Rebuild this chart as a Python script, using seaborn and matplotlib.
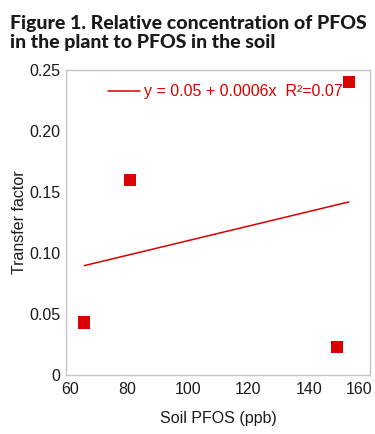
import matplotlib
matplotlib.use('Agg')
import matplotlib.pyplot as plt
import matplotlib.transforms as mtransforms
import seaborn as sns
import numpy as np
import pandas as pd

# data
soil_pfos = [66, 81, 149, 153]
transfer_factor = [0.043, 0.160, 0.023, 0.240]
fit_intercept = 0.05
fit_slope = 0.0006
fit_label = "y = 0.05 + 0.0006x  R\u00b2=0.07"
x_ticks = [60, 80, 100, 120, 140, 160]
y_ticks = [0, 0.05, 0.10, 0.15, 0.20, 0.25]
y_tick_labels = ["0", "0.05", "0.10", "0.15", "0.20", "0.25"]
title = "Figure 1. Relative concentration of PFOS\nin the plant to PFOS in the soil"

RED = '#d90000'
TEXT = '#1a1a1a'

sns.set_style('white')
plt.rcParams['font.family'] = ['Liberation Sans', 'DejaVu Sans']
plt.rcParams['text.color'] = TEXT
plt.rcParams['axes.labelcolor'] = TEXT
plt.rcParams['xtick.color'] = TEXT
plt.rcParams['ytick.color'] = TEXT

df = pd.DataFrame({'soil': soil_pfos, 'tf': transfer_factor})

fig = plt.figure(figsize=(3.75, 4.34), dpi=100)
ax = fig.add_axes([0.176, 0.136, 0.811, 0.703])

sns.scatterplot(data=df, x='soil', y='tf', marker='s', s=75, color=RED,
                edgecolor='none', ax=ax, legend=False, zorder=3)

x_line = np.array([min(soil_pfos), max(soil_pfos)])
ax.plot(x_line, fit_intercept + fit_slope * x_line, color=RED, linewidth=1.1,
        label=fit_label)

ax.set_xlim(60, 160)
ax.set_ylim(0, 0.25)
ax.set_xticks(x_ticks)
ax.set_yticks(y_ticks)
ax.set_yticklabels(y_tick_labels)
ax.tick_params(axis='both', labelsize=11.5, length=0)
ax.tick_params(axis='x', pad=5)
ax.tick_params(axis='y', pad=4)
ax.set_xlabel('Soil PFOS (ppb)', fontsize=11.5, labelpad=10)
ax.set_ylabel('Transfer factor', fontsize=11.5, labelpad=2)

# end labels are nudged inwards, like in the original
xlabels = ax.get_xticklabels()
xlabels[0].set_transform(xlabels[0].get_transform() +
                         mtransforms.ScaledTranslation(4 / 100, 0, fig.dpi_scale_trans))
xlabels[-1].set_transform(xlabels[-1].get_transform() +
                          mtransforms.ScaledTranslation(-11 / 100, 0, fig.dpi_scale_trans))

for spine in ax.spines.values():
    spine.set_color('#c4c4c4')
    spine.set_linewidth(1.0)

leg = ax.legend(loc='upper left', bbox_to_anchor=(0.09, 1.0), frameon=False,
                fontsize=11.5, labelcolor=RED, handlelength=2.0, handletextpad=0.25)

fig.text(0.027, 0.966, title, fontsize=14, fontweight='black',
         family=['Lato', 'DejaVu Sans'],
         ha='left', va='top', linespacing=1.15)

fig.savefig('out.png', dpi=100)
